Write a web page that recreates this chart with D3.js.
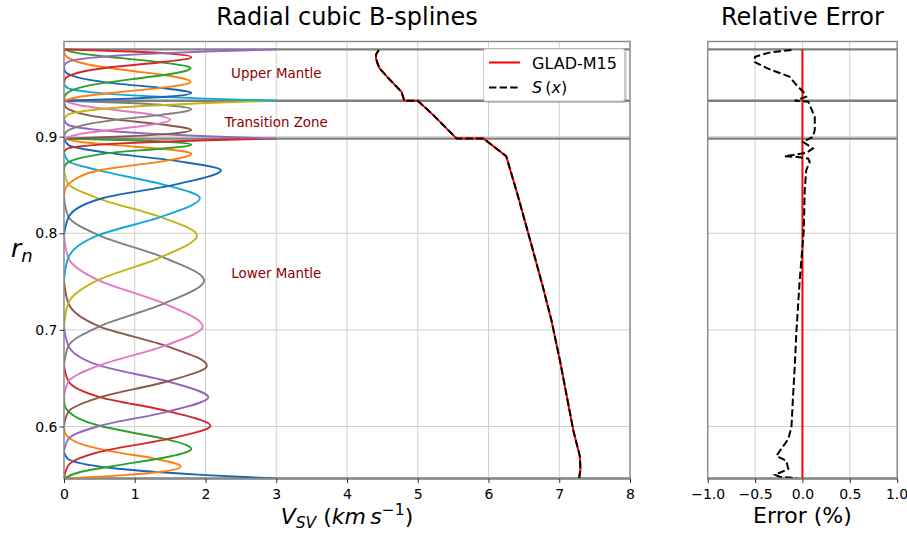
<!DOCTYPE html>
<html><head><meta charset="utf-8">
<script src="https://cdn.jsdelivr.net/npm/d3@7"></script>
<style>body{margin:0;background:#fff}svg{display:block;font-family:"DejaVu Sans",sans-serif}</style>
</head><body><svg id="c" width="907" height="535"></svg>
<script>
// ---------- DATA ----------
const palette = ["#1a66b3","#ff7f0e","#2ca02c","#d62728","#9467bd","#8c564b","#e377c2","#7f7f7f","#c2b514","#12a9d2"];
// radii of the discontinuities (top of mantle, 400 km, 650 km, CMB)
const discontinuities = [0.9903, 0.9372, 0.898, 0.5462];
const xTicksLeft = [0,1,2,3,4,5,6,7,8];
const yTicks = [0.6,0.7,0.8,0.9];
const xTicksRight = [-1,-0.5,0,0.5,1];
const zoneLabels = ["Upper Mantle","Transition Zone","Lower Mantle"];
const zoneLabelR = [0.9605, 0.9105, 0.7540];

// B-spline basis curves, each as [r, value] samples
const lowerMantleSplines = [
 [[0.5462,3],[0.5497,2.01],[0.5532,1.27],[0.5566,0.73],[0.5601,0.375],[0.5671,0.047],[0.574,0]],
 [[0.5462,0],[0.5497,0.85],[0.5532,1.37],[0.5587,1.65],[0.5671,1.26],[0.574,0.69],[0.5807,0.29],[0.5874,0.086],[0.5941,0.011],[0.6008,0]],
 [[0.5462,0],[0.5532,0.24],[0.5601,0.78],[0.5671,1.37],[0.574,1.75],[0.5767,1.8],[0.5807,1.73],[0.5874,1.41],[0.5941,0.94],[0.6008,0.5],[0.6082,0.21],[0.6155,0.063],[0.6229,0.008],[0.6302,0]],
 [[0.5462,0],[0.5601,0.065],[0.574,0.52],[0.5874,1.49],[0.6008,2.07],[0.6155,1.49],[0.6302,0.52],[0.6466,0.065],[0.663,0]],
 [[0.574,0],[0.5874,0.064],[0.6008,0.51],[0.6155,1.47],[0.6302,2.04],[0.6466,1.47],[0.663,0.51],[0.6833,0.064],[0.7035,0]],
 [[0.6008,0],[0.6155,0.063],[0.6302,0.505],[0.6466,1.45],[0.663,2.02],[0.6833,1.45],[0.7035,0.505],[0.7274,0.063],[0.7512,0]],
 [[0.6302,0],[0.6466,0.061],[0.663,0.49],[0.6833,1.41],[0.7035,1.96],[0.7274,1.41],[0.7512,0.49],[0.7746,0.061],[0.7979,0]],
 [[0.663,0],[0.6833,0.062],[0.7035,0.495],[0.7274,1.42],[0.7512,1.98],[0.7746,1.42],[0.7979,0.495],[0.8172,0.062],[0.8365,0]],
 [[0.7035,0],[0.7274,0.059],[0.7512,0.47],[0.7746,1.35],[0.7979,1.88],[0.8172,1.35],[0.8365,0.47],[0.8509,0.059],[0.8653,0]],
 [[0.7512,0],[0.7746,0.06],[0.7979,0.48],[0.8172,1.38],[0.8365,1.92],[0.8509,1.38],[0.8653,0.48],[0.8747,0.06],[0.884,0]],
 [[0.7979,0],[0.8172,0.069],[0.8365,0.555],[0.8509,1.6],[0.8653,2.22],[0.8747,1.6],[0.884,0.555],[0.891,0.069],[0.898,0]],
 [[0.8365,0],[0.8437,0.008],[0.8509,0.063],[0.8581,0.21],[0.8653,0.5],[0.87,0.94],[0.8747,1.41],[0.8793,1.73],[0.8821,1.8],[0.884,1.75],[0.8875,1.37],[0.891,0.78],[0.8945,0.24],[0.898,0]],
 [[0.8653,0],[0.87,0.012],[0.8747,0.094],[0.8793,0.32],[0.884,0.75],[0.8875,1.37],[0.8917,1.8],[0.8945,1.49],[0.8963,0.92],[0.898,0]],
 [[0.884,0],[0.8875,0.047],[0.891,0.375],[0.8928,0.73],[0.8945,1.27],[0.8963,2.01],[0.898,3]]
];
const transitionSplines = [
 [[0.898,3],[0.9005,2.01],[0.9029,1.27],[0.9054,0.73],[0.9078,0.375],[0.9127,0.047],[0.9176,0]],
 [[0.898,0],[0.9005,0.92],[0.9029,1.49],[0.9068,1.8],[0.9127,1.37],[0.9176,0.75],[0.9225,0.32],[0.9274,0.094],[0.9323,0.012],[0.9372,0]],
 [[0.898,0],[0.9029,0.23],[0.9078,0.75],[0.9127,1.27],[0.9176,1.5],[0.9225,1.27],[0.9274,0.75],[0.9323,0.23],[0.9372,0]],
 [[0.898,0],[0.9029,0.012],[0.9078,0.094],[0.9127,0.32],[0.9176,0.75],[0.9225,1.37],[0.9284,1.8],[0.9323,1.49],[0.9348,0.92],[0.9372,0]],
 [[0.9176,0],[0.9225,0.047],[0.9274,0.375],[0.9299,0.73],[0.9323,1.27],[0.9348,2.01],[0.9372,3]]
];
const upperMantleSplines = [
 [[0.9372,3],[0.9394,2.01],[0.9416,1.27],[0.9438,0.73],[0.9461,0.375],[0.9505,0.047],[0.9549,0]],
 [[0.9372,0],[0.9394,0.92],[0.9416,1.49],[0.9452,1.8],[0.9505,1.37],[0.9549,0.75],[0.9593,0.32],[0.9638,0.094],[0.9682,0.012],[0.9726,0]],
 [[0.9372,0],[0.9416,0.24],[0.9461,0.78],[0.9505,1.37],[0.9549,1.75],[0.9567,1.79],[0.9593,1.73],[0.9638,1.41],[0.9682,0.94],[0.9726,0.5],[0.977,0.21],[0.9815,0.063],[0.9859,0.008],[0.9903,0]],
 [[0.9372,0],[0.9416,0.008],[0.9461,0.063],[0.9505,0.21],[0.9549,0.5],[0.9593,0.94],[0.9638,1.41],[0.9682,1.73],[0.9708,1.79],[0.9726,1.75],[0.977,1.37],[0.9815,0.78],[0.9859,0.24],[0.9903,0]],
 [[0.9549,0],[0.9593,0.012],[0.9638,0.094],[0.9682,0.32],[0.9726,0.75],[0.977,1.37],[0.9823,1.8],[0.9859,1.49],[0.9881,0.92],[0.9903,0]],
 [[0.9726,0],[0.977,0.047],[0.9815,0.375],[0.9837,0.73],[0.9859,1.27],[0.9881,2.01],[0.9903,3]]
];

// V_SV profile (GLAD-M15) and its spline fit S(x): [r, km/s]
const vsvR = [0.9897,0.985,0.9811,0.976,0.9707,0.9586,0.9465,0.9372,0.9372,0.9223,0.898,0.898,0.8798,0.8428,0.8006,0.7442,0.7097,0.6682,0.5956,0.5697,0.5559,0.5462];
const vsvV = [4.45,4.41,4.41,4.43,4.46,4.61,4.77,4.81,5.00,5.22,5.55,5.93,6.25,6.40,6.56,6.77,6.89,7.01,7.20,7.29,7.30,7.28];

// relative error (%) of S(x)
const errR = [0.9897,0.987,0.9828,0.9776,0.974,0.9697,0.962,0.9534,0.9448,0.9413,0.9372,0.9362,0.9327,0.9205,0.9067,0.8998,0.8946,0.8878,0.8832,0.881,0.8798,0.879,0.8774,0.8739,0.8653,0.8445,0.803,0.75,0.6994,0.6648,0.6302,0.5993,0.587,0.5697,0.5645,0.556,0.55,0.548,0.5466];
const errV = [-0.116,-0.35,-0.50,-0.51,-0.44,-0.345,-0.134,-0.063,0.024,0.04,-0.08,0.06,0.077,0.13,0.13,0.11,0.006,0.11,0.04,-0.10,-0.19,-0.05,0.06,0.077,0.04,0.024,0.014,-0.03,-0.063,-0.08,-0.10,-0.116,-0.15,-0.275,-0.17,-0.15,-0.29,-0.24,-0.06];

// ---------- DRAW ----------
const svg = d3.select("#c");
const yTop = 41.5, yBot = 478.5;
const xL = d3.scaleLinear().domain([0,8]).range([64,630]);
const xR = d3.scaleLinear().domain([-1,1]).range([707.7,897.2]);
const y = d3.scaleLinear().domain([0.5462,0.9985]).range([yBot,yTop]);
const gridC = "#d0d0d0", spineC = "#8a8a8a", discC = "#808080";

const defs = svg.append("defs");
defs.append("clipPath").attr("id","clipL").append("rect").attr("x",xL(0)).attr("y",yTop).attr("width",xL(8)-xL(0)).attr("height",yBot-yTop);
defs.append("clipPath").attr("id","clipR").append("rect").attr("x",xR(-1)).attr("y",yTop).attr("width",xR(1)-xR(-1)).attr("height",yBot-yTop);

function panel(x, ticksX, clip){
  const g = svg.append("g");
  g.append("g").selectAll("line").data(ticksX).join("line")
    .attr("x1",d=>x(d)).attr("x2",d=>x(d)).attr("y1",yTop).attr("y2",yBot)
    .attr("stroke",gridC).attr("stroke-width",1);
  g.append("g").selectAll("line").data(yTicks).join("line")
    .attr("x1",x.range()[0]).attr("x2",x.range()[1]).attr("y1",d=>y(d)).attr("y2",d=>y(d))
    .attr("stroke",gridC).attr("stroke-width",1);
  g.append("g").selectAll("line").data(discontinuities).join("line")
    .attr("x1",x.range()[0]).attr("x2",x.range()[1]).attr("y1",d=>y(d)).attr("y2",d=>y(d))
    .attr("stroke",discC).attr("stroke-width",2.4);
  return g.append("g").attr("clip-path",`url(#${clip})`);
}

// Left panel
const pL = panel(xL, xTicksLeft, "clipL");
const allSplines = lowerMantleSplines.concat(transitionSplines, upperMantleSplines);
const splineLine = d3.line().x(d=>xL(d[1])).y(d=>y(d[0])).curve(d3.curveMonotoneY);
allSplines.forEach((s,i)=>{
  const pts = s.slice().sort((a,b)=>b[0]-a[0]);
  pL.append("path").attr("d",splineLine(pts)).attr("fill","none")
    .attr("stroke",palette[i%10]).attr("stroke-width",1.9);
});
const vsv = vsvR.map((r,i)=>[r,vsvV[i]]);
const vLine = d3.line().x(d=>xL(d[1])).y(d=>y(d[0]));
pL.append("path").attr("d",vLine(vsv)).attr("fill","none").attr("stroke","#ff0000").attr("stroke-width",2);
pL.append("path").attr("d",vLine(vsv)).attr("fill","none").attr("stroke","#000").attr("stroke-width",2).attr("stroke-dasharray","7.4,3.2");

zoneLabels.forEach((t,i)=>{
  svg.append("text").attr("x",xL(3)).attr("y",y(zoneLabelR[i])).attr("text-anchor","middle")
    .attr("fill","#8b0000").attr("font-size","13.4px").text(t);
});

// Right panel
const pR = panel(xR, xTicksRight, "clipR");
pR.append("line").attr("x1",xR(0)).attr("x2",xR(0)).attr("y1",y(discontinuities[0])).attr("y2",y(discontinuities[3]))
  .attr("stroke","#ff0000").attr("stroke-width",2);
const err = errR.map((r,i)=>[r,errV[i]]);
pR.append("path").attr("d",d3.line().x(d=>xR(d[1])).y(d=>y(d[0]))(err)).attr("fill","none")
  .attr("stroke","#000").attr("stroke-width",2).attr("stroke-dasharray","7.4,3.2");

// spines
[[xL(0),xL(8)],[xR(-1),xR(1)]].forEach(([a,b])=>{
  svg.append("rect").attr("x",a).attr("y",yTop).attr("width",b-a).attr("height",yBot-yTop)
    .attr("fill","none").attr("stroke",spineC).attr("stroke-width",1.4);
});

// axes
function styleAxis(g){
  g.select(".domain").remove();
  g.selectAll(".tick line").attr("stroke","#333").attr("stroke-width",1);
  g.selectAll(".tick text").attr("font-size","14px").attr("fill","#000").attr("font-family","DejaVu Sans");
}
svg.append("g").attr("transform",`translate(0,${yBot})`)
  .call(d3.axisBottom(xL).tickValues(xTicksLeft).tickFormat(d3.format("d")).tickSize(4.5).tickPadding(6)).call(styleAxis);
svg.append("g").attr("transform",`translate(${xL(0)},0)`)
  .call(d3.axisLeft(y).tickValues(yTicks).tickFormat(d3.format(".1f")).tickSize(4.5).tickPadding(2)).call(styleAxis);
const axR = svg.append("g").attr("transform",`translate(0,${yBot})`)
  .call(d3.axisBottom(xR).tickValues(xTicksRight).tickFormat(d3.format(".1f")).tickSize(4.5).tickPadding(6)).call(styleAxis);
// keep the last label inside the window
axR.selectAll(".tick text").filter(d=>d===1).attr("text-anchor","end").attr("dx","10.5px");

// titles
svg.append("text").attr("x",(xL(0)+xL(8))/2).attr("y",25).attr("text-anchor","middle").attr("font-size","24px").text("Radial cubic B-splines");
svg.append("text").attr("x",(xR(-1)+xR(1))/2).attr("y",25).attr("text-anchor","middle").attr("font-size","24px").text("Relative Error");

// axis labels
const yl = svg.append("text").attr("x",11).attr("y",257).attr("font-size","25px");
yl.append("tspan").attr("font-style","italic").text("r");
yl.append("tspan").attr("font-style","italic").attr("font-size","18px").attr("dy",5).text("n");

const xl = svg.append("text").attr("x",(xL(0)+xL(8))/2).attr("y",524).attr("text-anchor","middle").attr("font-size","22px");
xl.append("tspan").attr("font-style","italic").text("V");
xl.append("tspan").attr("font-style","italic").attr("font-size","15.5px").attr("dy",4).text("SV");
xl.append("tspan").attr("dy",-4).text("\u00a0(");
xl.append("tspan").attr("font-style","italic").text("km\u2009s");
xl.append("tspan").attr("font-size","15.5px").attr("dy",-9).text("\u22121");
xl.append("tspan").attr("dy",9).text(")");

svg.append("text").attr("x",(xR(-1)+xR(1))/2).attr("y",523).attr("text-anchor","middle").attr("font-size","22px").text("Error (%)");

// legend
const lg = svg.append("g");
lg.append("rect").attr("x",485.5).attr("y",51).attr("width",141).attr("height",52).attr("rx",2).attr("fill","#999").attr("opacity",0.55);
lg.append("rect").attr("x",483.5).attr("y",49).attr("width",141).attr("height",52).attr("rx",2).attr("fill","#fff").attr("stroke","#cccccc").attr("stroke-width",1);
lg.append("line").attr("x1",489).attr("x2",520).attr("y1",62.5).attr("y2",62.5).attr("stroke","#ff0000").attr("stroke-width",2);
lg.append("text").attr("x",532).attr("y",68.5).attr("font-size","16px").text("GLAD-M15");
lg.append("line").attr("x1",489).attr("x2",520).attr("y1",87.5).attr("y2",87.5).attr("stroke","#000").attr("stroke-width",2).attr("stroke-dasharray","7.4,3.2");
const st = lg.append("text").attr("x",532).attr("y",93).attr("font-size","16px");
st.append("tspan").attr("font-style","italic").text("S");
st.append("tspan").text("\u2009(");
st.append("tspan").attr("font-style","italic").text("x");
st.append("tspan").text(")");
</script></body></html>
